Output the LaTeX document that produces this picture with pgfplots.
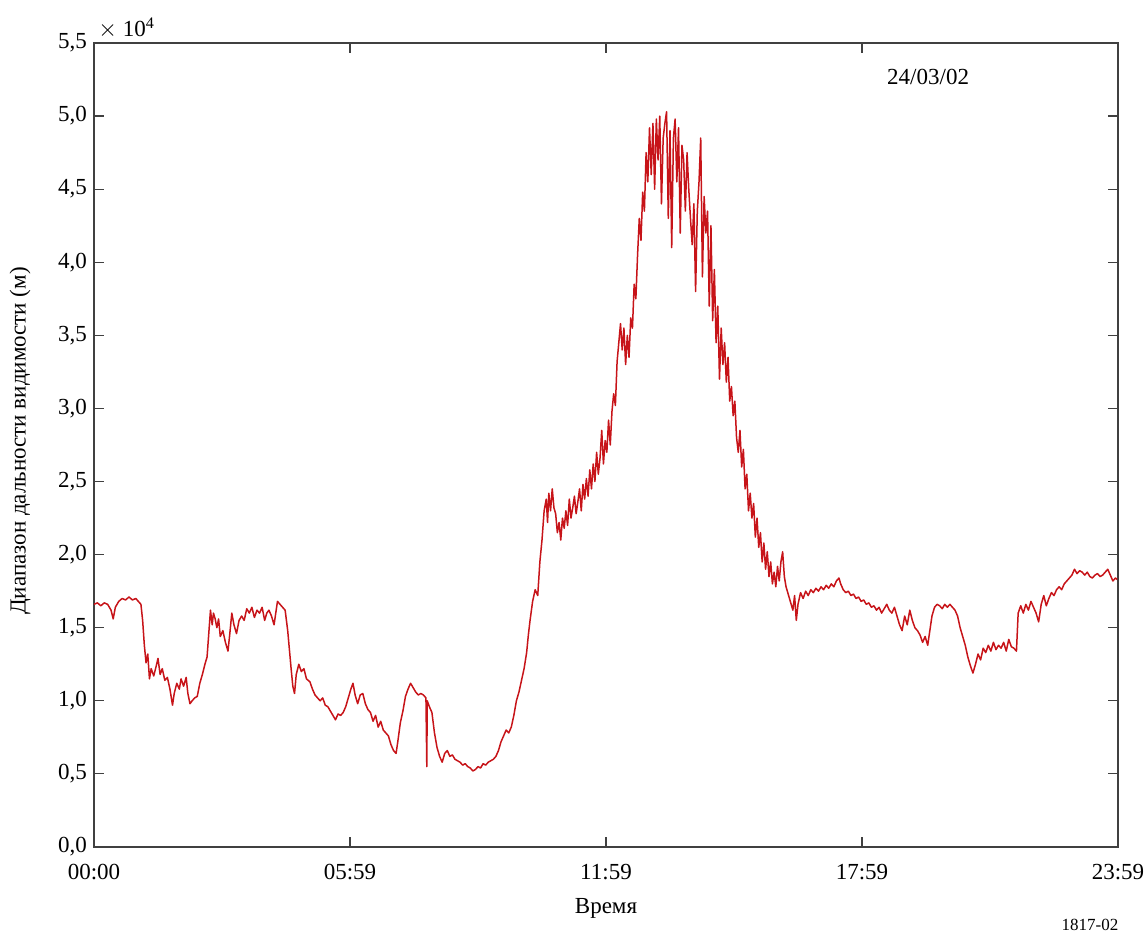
\documentclass[border=0pt]{standalone}
\usepackage{fontspec}
\setmainfont{Liberation Serif}
\usepackage{pgfplots}
\pgfplotsset{compat=1.18}
\definecolor{curve}{rgb}{0.78,0.08,0.10}
\begin{document}
\begin{tikzpicture}
\useasboundingbox (-47pt,-49pt) rectangle (526.5pt,423.5pt);
\begin{axis}[
  at={(0,0)}, anchor=south west,
  scale only axis, width=512pt, height=402pt,
  xmin=0, xmax=24, ymin=0, ymax=5.5,
  xtick={0,6,12,18,24},
  xticklabels={00:00,05:59,11:59,17:59,23:59},
  ytick={0,0.5,...,5.5},
  tick pos=both, tick align=inside,
  major tick length=5pt,
  axis line style={black!75, line width=0.8pt},
  tick style={black!75, line width=0.6pt},
  /pgf/number format/assume math mode=true,
  yticklabel style={/pgf/number format/.cd, fixed, fixed zerofill, precision=1, use comma},
  ticklabel style={font=\fontsize{11.5}{13}\selectfont},
  xticklabel style={yshift=-5pt},
  xlabel={Время},
  label style={font=\fontsize{11.5}{13}\selectfont},
  xlabel style={at={(axis description cs:0.5,-0.0759)}, anchor=center},
  clip=true,
]
\addplot[curve, line width=0.75pt, line join=round] table {
0.00 1.66
0.08 1.67
0.16 1.65
0.24 1.67
0.32 1.66
0.40 1.62
0.45 1.56
0.50 1.64
0.58 1.68
0.66 1.70
0.74 1.69
0.82 1.71
0.90 1.69
0.98 1.70
1.04 1.68
1.10 1.66
1.14 1.55
1.18 1.38
1.22 1.26
1.26 1.32
1.30 1.15
1.34 1.22
1.40 1.17
1.46 1.24
1.50 1.29
1.55 1.18
1.60 1.22
1.66 1.14
1.72 1.16
1.78 1.08
1.84 0.97
1.88 1.05
1.94 1.12
2.00 1.08
2.04 1.15
2.10 1.10
2.16 1.16
2.20 1.05
2.25 0.98
2.30 1.00
2.36 1.02
2.42 1.03
2.48 1.12
2.54 1.18
2.60 1.25
2.65 1.30
2.70 1.50
2.73 1.62
2.77 1.52
2.80 1.60
2.84 1.56
2.88 1.50
2.92 1.56
2.96 1.44
3.02 1.48
3.08 1.40
3.14 1.34
3.18 1.45
3.23 1.60
3.28 1.52
3.34 1.46
3.40 1.55
3.46 1.58
3.52 1.55
3.58 1.63
3.64 1.60
3.70 1.64
3.76 1.57
3.82 1.62
3.88 1.60
3.94 1.64
4.00 1.55
4.05 1.60
4.10 1.62
4.16 1.58
4.22 1.52
4.26 1.60
4.30 1.68
4.36 1.66
4.42 1.64
4.48 1.62
4.54 1.48
4.58 1.35
4.62 1.22
4.66 1.10
4.70 1.05
4.74 1.18
4.80 1.25
4.86 1.20
4.92 1.22
4.98 1.15
5.06 1.13
5.12 1.08
5.18 1.04
5.24 1.02
5.30 1.00
5.36 1.02
5.42 0.97
5.48 0.96
5.54 0.93
5.60 0.90
5.66 0.87
5.72 0.91
5.78 0.90
5.84 0.92
5.90 0.96
5.96 1.02
6.02 1.08
6.07 1.12
6.12 1.04
6.18 0.98
6.24 1.04
6.30 1.05
6.36 0.98
6.42 0.94
6.48 0.92
6.54 0.86
6.60 0.90
6.66 0.82
6.72 0.86
6.78 0.80
6.84 0.78
6.90 0.76
6.96 0.70
7.02 0.66
7.08 0.64
7.12 0.72
7.18 0.85
7.24 0.93
7.30 1.03
7.36 1.08
7.42 1.12
7.48 1.09
7.54 1.06
7.60 1.04
7.66 1.05
7.72 1.04
7.78 1.02
7.80 0.55
7.81 1.00
7.86 0.96
7.92 0.92
7.98 0.78
8.04 0.68
8.10 0.62
8.16 0.58
8.22 0.64
8.28 0.66
8.34 0.62
8.40 0.63
8.46 0.60
8.52 0.59
8.58 0.58
8.64 0.56
8.70 0.57
8.76 0.55
8.82 0.54
8.88 0.52
8.94 0.53
9.00 0.55
9.06 0.54
9.12 0.57
9.18 0.56
9.24 0.58
9.30 0.59
9.36 0.60
9.42 0.62
9.48 0.66
9.54 0.72
9.60 0.76
9.66 0.80
9.72 0.78
9.78 0.82
9.84 0.90
9.90 1.00
9.96 1.06
10.02 1.14
10.08 1.22
10.14 1.33
10.18 1.45
10.22 1.55
10.28 1.68
10.34 1.76
10.40 1.72
10.45 1.95
10.50 2.10
10.55 2.30
10.60 2.38
10.63 2.22
10.66 2.42
10.70 2.30
10.74 2.45
10.78 2.32
10.82 2.28
10.86 2.15
10.90 2.22
10.94 2.10
10.98 2.25
11.02 2.18
11.06 2.30
11.10 2.20
11.14 2.38
11.18 2.25
11.22 2.32
11.26 2.40
11.30 2.28
11.34 2.36
11.38 2.45
11.42 2.30
11.46 2.48
11.50 2.38
11.54 2.52
11.58 2.40
11.62 2.58
11.66 2.45
11.70 2.62
11.74 2.50
11.78 2.70
11.82 2.55
11.86 2.66
11.90 2.85
11.94 2.62
11.98 2.78
12.02 2.70
12.06 2.92
12.10 2.75
12.14 2.98
12.18 3.10
12.22 3.02
12.26 3.32
12.30 3.45
12.34 3.58
12.38 3.40
12.42 3.55
12.46 3.30
12.50 3.50
12.54 3.35
12.58 3.62
12.62 3.55
12.66 3.85
12.70 3.75
12.74 4.05
12.78 4.30
12.82 4.15
12.86 4.48
12.90 4.35
12.94 4.75
12.98 4.55
13.02 4.92
13.06 4.60
13.10 4.95
13.14 4.50
13.18 4.98
13.22 4.70
13.26 5.00
13.30 4.40
13.34 4.85
13.38 4.95
13.42 5.03
13.46 4.30
13.50 4.90
13.54 4.10
13.58 4.85
13.62 4.98
13.66 4.55
13.70 4.92
13.74 4.20
13.78 4.80
13.82 4.70
13.86 4.35
13.90 4.75
13.94 4.50
13.98 4.30
14.02 4.12
14.06 4.40
14.10 3.80
14.14 4.35
14.18 4.55
14.22 4.85
14.26 3.90
14.30 4.45
14.34 4.20
14.38 4.35
14.42 3.70
14.46 4.25
14.50 3.60
14.54 3.95
14.58 3.45
14.62 3.70
14.66 3.20
14.70 3.55
14.74 3.30
14.78 3.45
14.82 3.18
14.86 3.35
14.90 3.05
14.94 3.15
14.98 2.95
15.02 3.05
15.06 2.80
15.10 2.70
15.14 2.85
15.18 2.60
15.22 2.72
15.26 2.45
15.30 2.55
15.34 2.30
15.38 2.42
15.42 2.25
15.46 2.35
15.50 2.12
15.54 2.25
15.58 2.05
15.62 2.15
15.66 1.95
15.70 2.08
15.74 1.90
15.78 2.02
15.82 1.85
15.86 1.95
15.90 1.80
15.94 1.88
15.98 1.78
16.02 1.92
16.06 1.82
16.10 1.95
16.14 2.02
16.18 1.85
16.22 1.78
16.26 1.74
16.30 1.70
16.34 1.66
16.38 1.62
16.42 1.72
16.46 1.55
16.50 1.66
16.56 1.74
16.62 1.70
16.68 1.75
16.74 1.72
16.80 1.76
16.86 1.74
16.92 1.77
16.98 1.75
17.04 1.78
17.10 1.76
17.16 1.79
17.22 1.77
17.28 1.80
17.34 1.78
17.40 1.82
17.46 1.84
17.50 1.80
17.56 1.76
17.62 1.74
17.68 1.75
17.74 1.72
17.80 1.73
17.86 1.70
17.92 1.71
17.98 1.68
18.04 1.69
18.10 1.66
18.16 1.67
18.22 1.64
18.28 1.65
18.34 1.62
18.40 1.64
18.46 1.60
18.52 1.63
18.58 1.66
18.64 1.62
18.70 1.60
18.76 1.64
18.82 1.58
18.88 1.52
18.94 1.48
19.00 1.58
19.06 1.52
19.12 1.62
19.18 1.55
19.24 1.50
19.30 1.48
19.36 1.45
19.42 1.40
19.48 1.44
19.54 1.38
19.58 1.46
19.64 1.58
19.70 1.64
19.76 1.66
19.82 1.65
19.88 1.63
19.94 1.66
20.00 1.64
20.06 1.66
20.12 1.64
20.18 1.62
20.24 1.58
20.30 1.50
20.36 1.44
20.42 1.38
20.48 1.30
20.54 1.24
20.60 1.19
20.66 1.25
20.72 1.32
20.78 1.28
20.84 1.36
20.90 1.33
20.96 1.38
21.02 1.34
21.08 1.40
21.14 1.35
21.20 1.38
21.26 1.36
21.32 1.40
21.38 1.34
21.44 1.42
21.50 1.37
21.56 1.36
21.62 1.34
21.66 1.60
21.72 1.65
21.78 1.60
21.84 1.66
21.90 1.62
21.96 1.68
22.02 1.64
22.08 1.60
22.14 1.54
22.20 1.66
22.26 1.72
22.32 1.65
22.38 1.70
22.44 1.74
22.50 1.72
22.56 1.76
22.62 1.78
22.68 1.76
22.74 1.80
22.80 1.82
22.86 1.84
22.92 1.86
22.98 1.90
23.04 1.87
23.10 1.89
23.16 1.88
23.22 1.86
23.28 1.88
23.34 1.85
23.40 1.84
23.46 1.86
23.52 1.87
23.58 1.85
23.64 1.86
23.70 1.88
23.76 1.90
23.82 1.86
23.88 1.82
23.94 1.84
23.98 1.83
};
\node[anchor=center, font=\fontsize{11.5}{13}\selectfont] at (axis cs:19.55,5.27) {24/03/02};
\end{axis}
\node[anchor=center, rotate=90, font=\fontsize{11.5}{13}\selectfont] at (-37pt,203pt) {Диапазон дальности видимости (м)};
\node[anchor=base west, font=\fontsize{11.5}{13}\selectfont, inner sep=0pt] at (2pt,405pt) {$\times$ 10\textsuperscript{4}};
\node[anchor=center, font=\fontsize{8.5}{10}\selectfont] at (498pt,-39pt) {1817-02};
\end{tikzpicture}
\end{document}
